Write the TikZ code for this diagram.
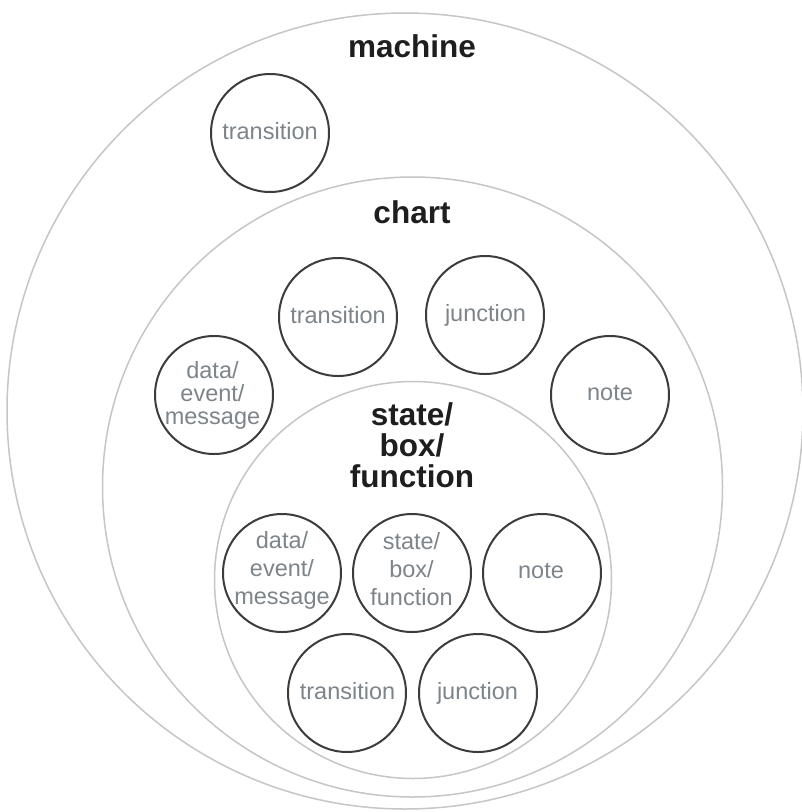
\documentclass[tikz,border=0pt]{standalone}
\usepackage{fontspec}
\setmainfont{Liberation Sans}
\definecolor{biglinec}{RGB}{198,198,198}
\definecolor{smalllinec}{RGB}{60,60,60}
\definecolor{smalltextc}{RGB}{125,133,138}
\definecolor{bigtextc}{RGB}{30,30,30}
\tikzset{
  bigcirc/.style={circle, draw=biglinec, line width=1.5pt, inner sep=0pt},
  smallcirc/.style={circle, draw=smalllinec, line width=2pt, minimum size=118pt, inner sep=0pt},
  smalltext/.style={text=smalltextc, font=\fontsize{23.5pt}{23pt}\selectfont, align=center, inner sep=0pt},
  smalltextloose/.style={smalltext, font=\fontsize{23.5pt}{28pt}\selectfont},
  bigtext/.style={text=bigtextc, font=\fontsize{31.5pt}{31pt}\selectfont\bfseries, align=center, inner sep=0pt}
}
\begin{document}
\begin{tikzpicture}[x=1pt, y=-1pt]
\path[use as bounding box, fill=white] (0,0) rectangle (802,812);
% nested containers
\node[bigcirc, minimum size=796pt] (machine) at (405,411) {};
\node[bigcirc, minimum size=620pt] (chart) at (412.5,487) {};
\node[bigcirc, minimum size=397pt] (state) at (413,580) {};
% container titles
\node[bigtext] (machinelbl) at (412,46) {machine};
\node[bigtext] (chartlbl) at (412,212) {chart};
\node[bigtext] (statelbl) at (412,445) {state/\\box/\\function};
% machine level
\node[smallcirc] (mtrans) at (270,133) {};
\node[smalltext] (mtranst) at (270,130.6) {transition};
% chart level
\node[smallcirc] (ctrans) at (338,317) {};
\node[smalltext] (ctranst) at (338,314.6) {transition};
\node[smallcirc] (cjunc) at (485,315) {};
\node[smalltext] (cjunct) at (485.5,315) {junction};
\node[smallcirc] (cdata) at (214,395) {};
\node[smalltext] (cdatat) at (212.5,395) {data/\\event/\\message};
\node[smallcirc] (cnote) at (610,395) {};
\node[smalltext] (cnotet) at (610,393) {note};
% state level
\node[smallcirc] (sdata) at (282,573) {};
\node[smalltextloose] (sdatat) at (282,570) {data/\\event/\\message};
\node[smallcirc] (sstate) at (412,573) {};
\node[smalltextloose] (sstatet) at (411.5,568.6) {state/\\box/\\function};
\node[smallcirc] (snote) at (542,573) {};
\node[smalltext] (snotet) at (541,571) {note};
\node[smallcirc] (strans) at (347,693) {};
\node[smalltext] (strant) at (347.5,690.6) {transition};
\node[smallcirc] (sjunc) at (478,693) {};
\node[smalltext] (sjunct) at (477.5,693) {junction};
\end{tikzpicture}
\end{document}
